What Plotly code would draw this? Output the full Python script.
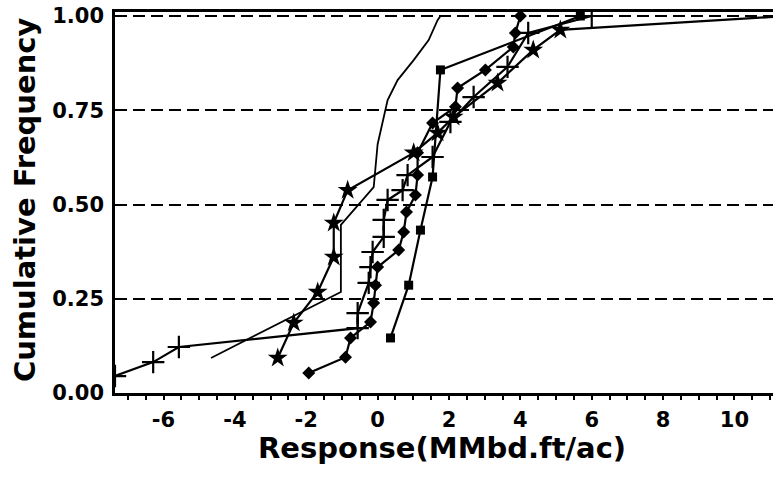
import plotly.graph_objects as go

# ---- data ----
thin_x = [-4.67, -1.03, -1.03, -0.11, 0.0, 0.28, 0.56, 1.01, 1.43, 1.68, 1.76]
thin_y = [0.093, 0.268, 0.446, 0.546, 0.66, 0.777, 0.830, 0.883, 0.936, 0.989, 1.0]

star_x = [-2.80, -2.35, -1.68, -1.23, -1.23, -0.84, 1.01, 1.68, 2.13, 3.36, 4.36, 5.12, 11.5]
star_y = [0.093, 0.186, 0.268, 0.361, 0.451, 0.538, 0.637, 0.690, 0.732, 0.822, 0.910, 0.963, 1.0]

diam_x = [-1.93, -0.90, -0.76, -0.20, -0.11, -0.06, 0.0, 0.59, 0.73, 0.81, 1.06, 1.12,
          1.12, 1.54, 2.18, 2.24, 3.02, 3.80, 3.86, 4.0]
diam_y = [0.053, 0.095, 0.146, 0.188, 0.239, 0.286, 0.334, 0.379, 0.427, 0.480, 0.525, 0.578,
          0.637, 0.716, 0.759, 0.809, 0.857, 0.918, 0.955, 1.0]

sq_x = [0.36, 0.87, 1.20, 1.54, 1.76, 5.68]
sq_y = [0.146, 0.286, 0.432, 0.573, 0.857, 1.0]

plus_x = [-7.36, -6.29, -5.57, -0.56, -0.56, -0.25, -0.20, -0.14, 0.17, 0.17, 0.28, 0.70,
          0.84, 1.54, 2.04, 2.69, 3.64, 4.22, 6.0]
plus_y = [0.045, 0.082, 0.122, 0.172, 0.212, 0.292, 0.334, 0.374, 0.414, 0.459, 0.512, 0.538,
          0.578, 0.626, 0.719, 0.785, 0.865, 0.955, 1.0]

x_tickvals = [-6, -4, -2, 0, 2, 4, 6, 8, 10]
x_ticktext = ["-6", "-4", "-2", "0", "2", "4", "6", "8", "10"]
y_tickvals = [0.0, 0.25, 0.5, 0.75, 1.0]
y_ticktext = ["0.00", "0.25", "0.50", "0.75", "1.00"]

FONT = "DejaVu Sans, Liberation Sans, sans-serif"

fig = go.Figure()
fig.add_trace(go.Scatter(x=thin_x, y=thin_y, mode="lines",
                         line=dict(color="black", width=1.8), showlegend=False))
fig.add_trace(go.Scatter(x=star_x, y=star_y, mode="lines+markers",
                         line=dict(color="black", width=2.2),
                         marker=dict(symbol="star", size=15, color="black"), showlegend=False))
fig.add_trace(go.Scatter(x=diam_x, y=diam_y, mode="lines+markers",
                         line=dict(color="black", width=2.2),
                         marker=dict(symbol="diamond", size=10, color="black"), showlegend=False))
fig.add_trace(go.Scatter(x=sq_x, y=sq_y, mode="lines+markers",
                         line=dict(color="black", width=2.2),
                         marker=dict(symbol="square", size=9, color="black"), showlegend=False))
fig.add_trace(go.Scatter(x=plus_x, y=plus_y, mode="lines+markers",
                         line=dict(color="black", width=2.2),
                         marker=dict(symbol="cross-thin", size=16, color="black",
                                     line=dict(color="black", width=2.2)), showlegend=False))

fig.update_layout(
    width=773, height=488,
    margin=dict(l=115, r=0, t=12, b=95),
    paper_bgcolor="white", plot_bgcolor="white",
    font=dict(family=FONT, color="black"),
    hovermode=False,
    annotations=[
        dict(text="Response(MMbd.ft/ac)", xref="paper", yref="paper",
             x=0.4977, y=-0.1444, xanchor="center", yanchor="middle", showarrow=False,
             font=dict(family=FONT, size=29, weight="bold", color="black")),
        dict(text="Cumulative Frequency", xref="paper", yref="paper",
             x=-0.1366, y=0.5066, xanchor="center", yanchor="middle", showarrow=False,
             textangle=-90,
             font=dict(family=FONT, size=29, weight="bold", color="black")),
    ],
)
fig.update_xaxes(
    range=[-7.36, 11.08], tickvals=x_tickvals, ticktext=x_ticktext,
    showgrid=False, zeroline=False, automargin=False,
    showline=True, linecolor="black", linewidth=2.5, mirror=True,
    ticks="outside", ticklen=4, tickwidth=1.5, tickcolor="black",
    minor=dict(ticks="outside", dtick=0.5, ticklen=4, tickwidth=1.5, tickcolor="black"),
    tickfont=dict(family=FONT, size=21, weight="bold"),
    ticklabelstandoff=2, ticklabeloverflow="allow",
)
fig.update_yaxes(
    range=[0, 1.0106], tickvals=y_tickvals, ticktext=y_ticktext,
    showgrid=True, gridcolor="black", gridwidth=2.2, griddash="12px,6px",
    zeroline=False, automargin=False,
    showline=True, linecolor="black", linewidth=2.5,
    ticks="", ticklabelstandoff=4, ticklabeloverflow="allow",
    tickfont=dict(family=FONT, size=21, weight="bold"),
)

fig.write_html("out.html", config={"displayModeBar": False},
               post_script="document.body.style.margin='0';")
